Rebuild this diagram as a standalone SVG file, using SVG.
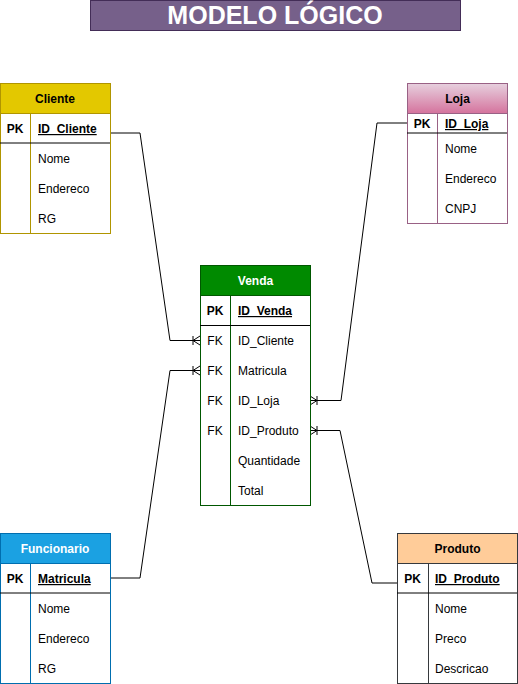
<svg xmlns="http://www.w3.org/2000/svg" width="518" height="684" viewBox="0 0 518 684">
<defs>
<style>
text{font-family:"Liberation Sans",Arial,sans-serif;font-size:12px;fill:#000}
.hd{font-weight:bold;text-anchor:middle}
.pk{font-weight:bold;text-anchor:middle}
.fk{text-anchor:middle}
.key{font-weight:bold;text-decoration:underline}
.body{fill:#fff}
.sep{stroke:#000;stroke-width:1}
.conn{fill:none;stroke:#000;stroke-width:1}
</style>
<linearGradient id="gLoja" x1="0" y1="0" x2="0" y2="1">
<stop offset="0" stop-color="#e6d0de"/>
<stop offset="1" stop-color="#d5739d"/>
</linearGradient>
<marker id="manyL" markerWidth="12" markerHeight="12" refX="10" refY="6" orient="auto" markerUnits="userSpaceOnUse">
<path d="M0,6 H10 M3,1.5 V10.5 M3,6 L10,1.5 M3,6 L10,10.5" fill="none" stroke="#000" stroke-width="1"/>
</marker>
</defs>

<g id="title">
<rect x="90.5" y="0.5" width="370" height="30" fill="#76608a" stroke="#432d57"/>
<text x="275" y="24" style="font-size:25px;font-weight:bold;fill:#fff;text-anchor:middle">MODELO LÓGICO</text>
</g>

<g id="connectors">
<path class="conn" d="M110,133 L140,133 L170,340.5 L200,340.5" marker-end="url(#manyL)"/>
<path class="conn" d="M110,578 L140,578 L170,370.5 L200,370.5" marker-end="url(#manyL)"/>
<path class="conn" d="M407,123 L377,123 L341,400.5 L310,400.5" marker-end="url(#manyL)"/>
<path class="conn" d="M397,583 L372,583 L340,430.5 L310,430.5" marker-end="url(#manyL)"/>
</g>

<g id="cliente">
<rect class="body" x="0.5" y="83.5" width="110" height="150" stroke="#B09500"/>
<rect x="0.5" y="83.5" width="110" height="30" fill="#e3c800" stroke="#B09500"/>
<line x1="30.5" y1="113.5" x2="30.5" y2="233.5" stroke="#B09500"/>
<line class="sep" x1="0" y1="143" x2="110" y2="143"/>
<text class="hd" x="55" y="103">Cliente</text>
<text class="pk" x="15" y="133">PK</text>
<text class="key" x="38" y="133">ID_Cliente</text>
<text x="38" y="163">Nome</text>
<text x="38" y="193">Endereco</text>
<text x="38" y="223">RG</text>
</g>

<g id="loja">
<rect class="body" x="407.5" y="83.5" width="100" height="140" stroke="#996185"/>
<rect x="407.5" y="83.5" width="100" height="30" fill="url(#gLoja)" stroke="#996185"/>
<line x1="437.5" y1="113.5" x2="437.5" y2="223.5" stroke="#996185"/>
<line class="sep" x1="407" y1="133" x2="507" y2="133"/>
<text class="hd" x="457.5" y="103">Loja</text>
<text class="pk" x="422" y="128">PK</text>
<text class="key" x="445" y="128">ID_Loja</text>
<text x="445" y="153">Nome</text>
<text x="445" y="183">Endereco</text>
<text x="445" y="213">CNPJ</text>
</g>

<g id="venda">
<rect class="body" x="200.5" y="265.5" width="110" height="240" stroke="#005700"/>
<rect x="200.5" y="265.5" width="110" height="30" fill="#008a00" stroke="#005700"/>
<line x1="230.5" y1="295.5" x2="230.5" y2="505.5" stroke="#005700"/>
<line class="sep" x1="200" y1="325.5" x2="310" y2="325.5"/>
<text class="hd" x="255.5" y="285" style="fill:#fff">Venda</text>
<text class="pk" x="215" y="315">PK</text>
<text class="key" x="238" y="315">ID_Venda</text>
<text class="fk" x="215" y="345">FK</text>
<text x="238" y="345">ID_Cliente</text>
<text class="fk" x="215" y="375">FK</text>
<text x="238" y="375">Matricula</text>
<text class="fk" x="215" y="405">FK</text>
<text x="238" y="405">ID_Loja</text>
<text class="fk" x="215" y="435">FK</text>
<text x="238" y="435">ID_Produto</text>
<text x="238" y="465">Quantidade</text>
<text x="238" y="495">Total</text>
</g>

<g id="funcionario">
<rect class="body" x="0.5" y="533.5" width="110" height="150" stroke="#006EAF"/>
<rect x="0.5" y="533.5" width="110" height="30" fill="#1ba1e2" stroke="#006EAF"/>
<line x1="30.5" y1="563.5" x2="30.5" y2="683.5" stroke="#006EAF"/>
<line class="sep" x1="0" y1="593" x2="110" y2="593"/>
<text class="hd" x="55" y="553" style="fill:#fff">Funcionario</text>
<text class="pk" x="15" y="583">PK</text>
<text class="key" x="38" y="583">Matricula</text>
<text x="38" y="613">Nome</text>
<text x="38" y="643">Endereco</text>
<text x="38" y="673">RG</text>
</g>

<g id="produto">
<rect class="body" x="397.5" y="533.5" width="120" height="150" stroke="#36393d"/>
<rect x="397.5" y="533.5" width="120" height="30" fill="#ffcc99" stroke="#36393d"/>
<line x1="428.5" y1="563.5" x2="428.5" y2="683.5" stroke="#36393d"/>
<line class="sep" x1="397" y1="593" x2="517" y2="593"/>
<text class="hd" x="457.5" y="553">Produto</text>
<text class="pk" x="412.5" y="583">PK</text>
<text class="key" x="435" y="583">ID_Produto</text>
<text x="435" y="613">Nome</text>
<text x="435" y="643">Preco</text>
<text x="435" y="673">Descricao</text>
</g>
</svg>
